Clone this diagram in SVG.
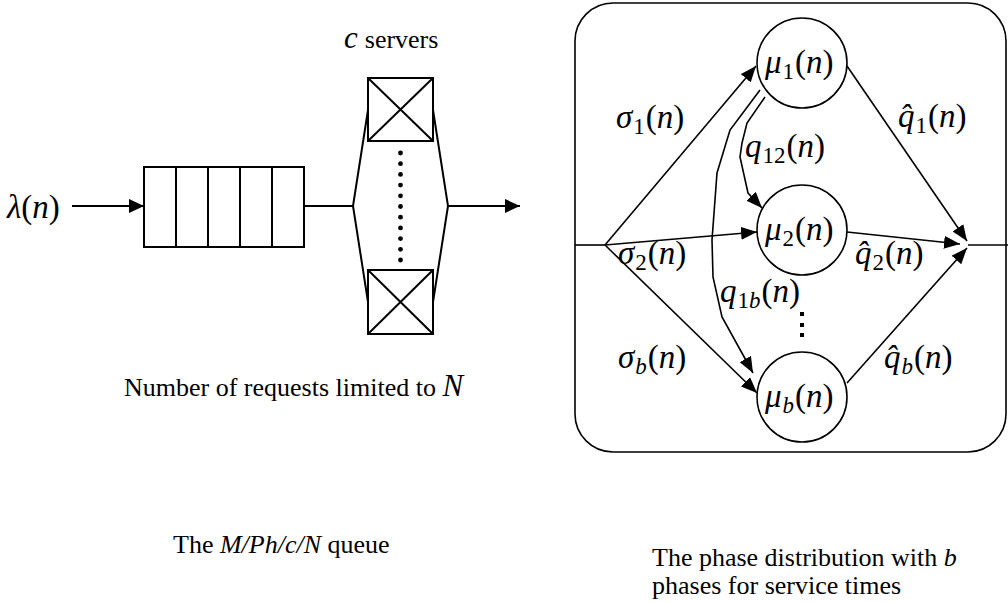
<svg xmlns="http://www.w3.org/2000/svg" width="1008" height="602" viewBox="0 0 1008 602">
  <style>
    .ln { fill: none; stroke: #000; stroke-width: 2; }
    .thin { fill: none; stroke: #000; stroke-width: 1.6; }
    .box { fill: #fff; stroke: #000; stroke-width: 2; }
    .node { fill: #fff; stroke: #000; stroke-width: 1.6; }
    text { font-family: "Liberation Serif", "Times New Roman", serif; fill: #000; }
    .cap { font-size: 26px; }
    .m { font-size: 33px; }
    .i { font-style: italic; }
    .sub { font-size: 23px; }
  </style>
  <defs>
    <marker id="ah" markerUnits="userSpaceOnUse" markerWidth="16" markerHeight="14" refX="15" refY="7" orient="auto">
      <path d="M0,0 L15,7 L0,14 z" fill="#000"/>
    </marker>
    <marker id="ahs" markerUnits="userSpaceOnUse" markerWidth="17" markerHeight="13" refX="16" refY="6.5" orient="auto">
      <path d="M0,0 L16,6.5 L0,13 z" fill="#000"/>
    </marker>
  </defs>

  <!-- M/Ph/c/N queue: waiting room -->
  <g id="queue">
    <rect class="box" x="144" y="167" width="160" height="80"/>
    <path class="ln" d="M176,167 V247 M208,167 V247 M240,167 V247 M272,167 V247"/>
  </g>

  <!-- c parallel servers -->
  <g id="servers">
    <path class="ln" d="M368,110 L353,206 L368,302 M433,110 L448,206 L433,302"/>
    <rect class="box" x="368" y="78" width="65" height="63"/>
    <path class="ln" d="M368,78 L433,141 M433,78 L368,141"/>
    <rect class="box" x="368" y="270" width="65" height="64"/>
    <path class="ln" d="M368,270 L433,334 M433,270 L368,334"/>
    <g fill="#000">
      <circle cx="400.5" cy="153" r="2.4"/>
      <circle cx="400.5" cy="163.7" r="2.4"/>
      <circle cx="400.5" cy="174.4" r="2.4"/>
      <circle cx="400.5" cy="185.1" r="2.4"/>
      <circle cx="400.5" cy="195.8" r="2.4"/>
      <circle cx="400.5" cy="206.5" r="2.4"/>
      <circle cx="400.5" cy="217.2" r="2.4"/>
      <circle cx="400.5" cy="227.9" r="2.4"/>
      <circle cx="400.5" cy="238.6" r="2.4"/>
      <circle cx="400.5" cy="249.3" r="2.4"/>
      <circle cx="400.5" cy="260" r="2.4"/>
    </g>
  </g>

  <!-- phase-type service distribution -->
  <g id="phase-frame">
    <rect class="node" x="575" y="3" width="431" height="449" rx="38" ry="38" fill="none"/>
  </g>
  <g id="mu1">
    <circle class="node" cx="802" cy="63" r="45"/>
    <text class="m" x="765" y="73"><tspan class="i">μ</tspan><tspan class="sub" dx="1" dy="6">1</tspan><tspan dx="1" dy="-6">(</tspan><tspan class="i">n</tspan>)</text>
  </g>
  <g id="mu2">
    <circle class="node" cx="802" cy="230" r="45"/>
    <text class="m" x="765" y="240"><tspan class="i">μ</tspan><tspan class="sub" dx="1" dy="6">2</tspan><tspan dx="1" dy="-6">(</tspan><tspan class="i">n</tspan>)</text>
  </g>
  <g id="mub">
    <circle class="node" cx="802" cy="397" r="45"/>
    <text class="m" x="765" y="407"><tspan class="i">μ</tspan><tspan class="sub i" dx="1" dy="6">b</tspan><tspan dx="1" dy="-6">(</tspan><tspan class="i">n</tspan>)</text>
  </g>

  <!-- connectors -->
  <g id="connectors">
    <path class="ln" d="M72,206 H144" marker-end="url(#ah)"/>
    <path class="ln" d="M304,206 H353"/>
    <path class="ln" d="M448,206 H520" marker-end="url(#ah)"/>

    <path class="thin" d="M575,245 H605"/>
    <path class="thin" d="M605,245 L756,66" marker-end="url(#ahs)"/>
    <path class="thin" d="M605,245 L757,232" marker-end="url(#ahs)"/>
    <path class="thin" d="M605,245 L757,393" marker-end="url(#ahs)"/>
    <path class="thin" d="M847,66 L967,241" marker-end="url(#ahs)"/>
    <path class="thin" d="M847,232 L960,244" marker-end="url(#ahs)"/>
    <path class="thin" d="M847,383 L967,248" marker-end="url(#ahs)"/>
    <path class="thin" d="M968,245 H1008"/>
    <path class="thin" d="M765,97 L747,123 L742,143 L740,157 L748,193 L762,208" marker-end="url(#ahs)"/>
    <path class="thin" d="M760,90 L730,130 L717,173 L712,240 L713,277 L722,317 L753,373" marker-end="url(#ahs)"/>
  </g>

  <!-- vertical ellipsis between phases -->
  <g fill="#000">
    <rect x="800" y="312" width="4" height="4"/>
    <rect x="800" y="323" width="4" height="4"/>
    <rect x="800" y="333" width="4" height="4"/>
  </g>

  <!-- edge labels -->
  <text class="m" x="7" y="218"><tspan class="i">λ</tspan>(<tspan class="i">n</tspan>)</text>

  <text class="m" x="616" y="128"><tspan class="i">σ</tspan><tspan class="sub" dx="1" dy="6">1</tspan><tspan dx="1" dy="-6">(</tspan><tspan class="i">n</tspan>)</text>
  <text class="m" x="618" y="264"><tspan class="i">σ</tspan><tspan class="sub" dx="1" dy="6">2</tspan><tspan dx="1" dy="-6">(</tspan><tspan class="i">n</tspan>)</text>
  <text class="m" x="618" y="368"><tspan class="i">σ</tspan><tspan class="sub i" dx="1" dy="6">b</tspan><tspan dx="1" dy="-6">(</tspan><tspan class="i">n</tspan>)</text>

  <text class="m" x="745" y="157"><tspan class="i">q</tspan><tspan class="sub" dx="1" dy="6">12</tspan><tspan dx="1" dy="-6">(</tspan><tspan class="i">n</tspan>)</text>
  <text class="m" x="720" y="302"><tspan class="i">q</tspan><tspan class="sub" dx="1" dy="6">1<tspan class="i">b</tspan></tspan><tspan dx="1" dy="-6">(</tspan><tspan class="i">n</tspan>)</text>

  <text class="m" x="898" y="127"><tspan class="i">q̂</tspan><tspan class="sub" dx="1" dy="6">1</tspan><tspan dx="1" dy="-6">(</tspan><tspan class="i">n</tspan>)</text>
  <text class="m" x="855" y="264"><tspan class="i">q̂</tspan><tspan class="sub" dx="1" dy="6">2</tspan><tspan dx="1" dy="-6">(</tspan><tspan class="i">n</tspan>)</text>
  <text class="m" x="884" y="368"><tspan class="i">q̂</tspan><tspan class="sub i" dx="1" dy="6">b</tspan><tspan dx="1" dy="-6">(</tspan><tspan class="i">n</tspan>)</text>

  <!-- captions -->
  <text x="344" y="48"><tspan class="i" font-size="31">c</tspan><tspan class="cap" dx="7">servers</tspan></text>
  <text class="cap" x="124" y="396">Number of requests limited to <tspan class="i" font-size="31">N</tspan></text>
  <text class="cap" x="173" y="553">The <tspan class="i">M/Ph/c/N</tspan> queue</text>
  <text class="cap" x="652" y="566">The phase distribution with <tspan class="i">b</tspan></text>
  <text class="cap" x="652" y="594">phases for service times</text>
</svg>
